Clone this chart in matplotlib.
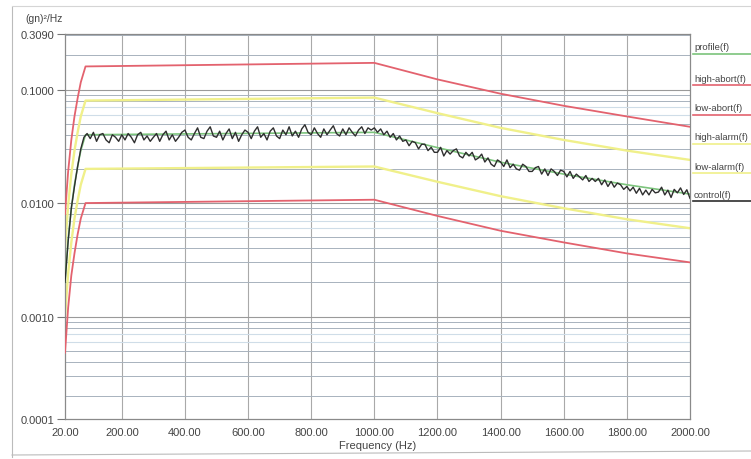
import numpy as np
import matplotlib
matplotlib.use("Agg")
import matplotlib.pyplot as plt
from matplotlib.lines import Line2D

plt.rcParams['font.family'] = ['Liberation Sans', 'DejaVu Sans']

# ---------------- data ----------------
limit_freq = [20, 30, 40, 50, 60, 70, 85, 1000, 1200, 1400, 1600, 1800, 2000]
profile    = [0.0020, 0.0048, 0.0090, 0.0145, 0.021, 0.029, 0.040, 0.042,
              0.0308, 0.0229, 0.0180, 0.0145, 0.0120]
high_abort = [0.0080, 0.019, 0.036, 0.058, 0.084, 0.116, 0.160, 0.172,
              0.123, 0.092, 0.072, 0.058, 0.047]
low_abort  = [0.00048, 0.0012, 0.0023, 0.0036, 0.0053, 0.0073, 0.0100, 0.0107,
              0.0077, 0.0057, 0.0045, 0.0036, 0.0030]
high_alarm = [0.0040, 0.0096, 0.018, 0.029, 0.042, 0.058, 0.080, 0.085,
              0.062, 0.046, 0.036, 0.029, 0.024]
low_alarm  = [0.0010, 0.0024, 0.0045, 0.0073, 0.0105, 0.0145, 0.020, 0.021,
              0.0154, 0.0115, 0.0090, 0.0072, 0.0060]

control_freq = np.arange(20, 2001, 10)
# control PSD in milli-(gn)^2/Hz
control_milli = [
    2.0, 4.6, 9.0, 14, 21, 30, 38,
    41, 37, 42, 35, 40, 41, 36, 34, 40, 38, 35,
    40, 36, 41, 38, 34, 40, 42, 36, 39, 35,
    38, 41, 35, 40, 43, 36, 40, 35, 38, 42,
    44, 38, 36, 41, 46, 38, 37, 43, 47, 39,
    38, 43, 36, 41, 45, 37, 42, 35, 40, 44,
    42, 37, 43, 47, 38, 41, 36, 43, 46, 39,
    37, 44, 40, 47, 39, 43, 38, 45, 49, 42,
    40, 46, 41, 38, 45, 40, 44, 48, 41, 39,
    45, 40, 46, 42, 39, 44, 47, 41, 46, 44,
    46, 42, 45, 40, 43, 38, 41, 36, 39, 35,
    36, 32, 35, 34, 30, 33, 33, 29, 31, 28,
    28, 31, 26, 29, 27, 29, 30, 26, 25, 28,
    26, 28, 24, 25, 27, 23, 25, 22, 21, 24,
    23, 21, 24, 20.5, 22, 20, 19.5, 22, 21, 19,
    19, 20.5, 21, 18, 20, 17.5, 20, 19, 17.5, 19.5,
    19, 17, 19, 16.5, 18, 17, 16, 17.5, 15.5, 16.5,
    15.5, 16.5, 14.5, 16, 14, 15.5, 13.8, 15, 14.5, 13.2,
    14, 12.8, 13.8, 12.2, 13.5, 11.8, 13, 11.8, 13.2, 12.3,
    12.5, 13.8, 11.8, 13, 11.2, 13.2, 12.3, 13.6, 11.9, 13.1,
    11,
]

x_ticks = [20, 200, 400, 600, 800, 1000, 1200, 1400, 1600, 1800, 2000]
x_ticklabels = ["20.00", "200.00", "400.00", "600.00", "800.00", "1000.00",
                "1200.00", "1400.00", "1600.00", "1800.00", "2000.00"]
y_ticks = [1.25e-4, 0.001, 0.01, 0.1, 0.309]
y_ticklabels = ["0.0001", "0.0010", "0.0100", "0.1000", "0.3090"]

legend_names = ["profile(f)", "high-abort(f)", "low-abort(f)",
                "high-alarm(f)", "low-alarm(f)", "control(f)"]

# ---------------- styles ----------------
RED = '#e3626e'
YEL = '#f0f08a'
GRN = '#7cc47c'
BLK = '#2e2e2e'
TXT = '#444444'

fig = plt.figure(figsize=(7.51, 4.60), dpi=100)
fig.patch.set_facecolor('white')
ax = fig.add_axes([65/751, 1-420/460, (690-65)/751, (420-35)/460])

# grid
for xv in x_ticks[1:-1]:
    ax.axvline(xv, color='#a9a9a9', lw=0.8, zorder=0)
for dec in [1e-4, 1e-3, 1e-2, 1e-1]:
    for m in range(1, 10):
        v = m * dec
        if 1.25e-4 < v < 0.309:
            if m == 1:
                c, lw = '#9a9a9a', 0.8
            elif m in (6, 7):
                c, lw = '#cfdde8', 0.8
            else:
                c, lw = '#a8b2bd', 0.7
            ax.axhline(v, color=c, lw=lw, zorder=0)

ax.plot(limit_freq, low_alarm, color=YEL, lw=1.7, zorder=2)
ax.plot(limit_freq, high_alarm, color=YEL, lw=1.7, zorder=2)
ax.plot(limit_freq, low_abort, color=RED, lw=1.3, zorder=3)
ax.plot(limit_freq, high_abort, color=RED, lw=1.3, zorder=3)
ax.plot(limit_freq, profile, color=GRN, lw=1.2, zorder=4)
ax.plot(control_freq, np.array(control_milli) / 1000.0, color=BLK, lw=1.0, zorder=5)

ax.set_yscale('log')
ax.set_xlim(20, 2000)
ax.set_ylim(1.25e-4, 0.309)
ax.set_xticks(x_ticks)
ax.set_xticklabels(x_ticklabels)
ax.set_yticks(y_ticks)
ax.set_yticklabels(y_ticklabels)
ax.yaxis.set_minor_locator(matplotlib.ticker.NullLocator())
ax.tick_params(axis='x', length=0, pad=6, labelsize=8, labelcolor=TXT)
ax.tick_params(axis='y', length=6, width=0.8, color='#777777', pad=2, labelsize=8, labelcolor=TXT)
for s in ax.spines.values():
    s.set_color('#8a8a8a')
    s.set_linewidth(0.9)

ax.set_xlabel("Frequency (Hz)", fontsize=8, color=TXT, labelpad=2)
fig.text(25/751, 1-19/460, "(gn)\u00b2/Hz", fontsize=7.5, color=TXT, va='center', ha='left')

# legend on the right
leg_colors = [GRN, RED, RED, YEL, YEL, BLK]
leg_text_y = [48, 79, 109, 138, 167, 195]
for name, c, yt in zip(legend_names, leg_colors, leg_text_y):
    fig.text(694/751, 1-yt/460, name, fontsize=6.8, color=TXT, va='center', ha='left')
    yl = 1-(yt+7)/460
    fig.add_artist(Line2D([693/751, 1.0], [yl, yl], color=c, lw=1.2,
                          transform=fig.transFigure))

# outer frame
fig.add_artist(Line2D([12/751, 12/751], [1-8/460, 1-458/460], color='#bbbbbb', lw=0.8,
                      transform=fig.transFigure))
fig.add_artist(Line2D([12/751, 1.0], [1-456/460, 1-452/460], color='#bbbbbb', lw=0.8,
                      transform=fig.transFigure))
fig.add_artist(Line2D([12/751, 1.0], [1-7/460, 1-7/460], color='#d5d5d5', lw=0.8,
                      transform=fig.transFigure))

fig.savefig("out.png", dpi=100, facecolor='white')
